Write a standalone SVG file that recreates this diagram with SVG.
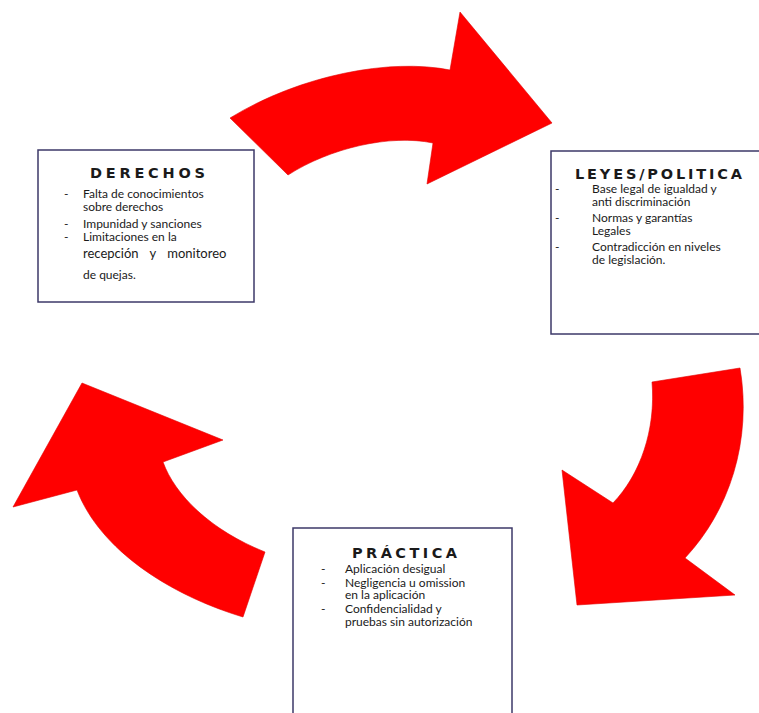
<svg xmlns="http://www.w3.org/2000/svg" width="759" height="713" viewBox="0 0 759 713">
<style>
.box{fill:#ffffff;stroke:#3d3868;stroke-width:1.5}
.arrow{fill:#ff0000;stroke:#e00000;stroke-width:0.6}
.title{font-family:"DejaVu Sans",Lato,sans-serif;font-weight:bold;font-size:14.5px;fill:#1a1a1a}
.t{font-family:Lato,"Liberation Sans",sans-serif;font-size:12px;fill:#1a1a1a}
</style>
<rect width="759" height="713" fill="#ffffff"/>
<g id="connectors">
<path class="arrow" d="M230,118 C300,75 390,58 450,70 L460,12 L552,123 L427,184 L433,143 C390,134 330,148 288,175 Z"/>
<path class="arrow" d="M740,368 C752,440 730,510 685,558 L735,595 L577,605 L562,470 L613,503 C640,475 656,430 652,382 Z"/>
<path class="arrow" d="M82,383 L223,440 L163,462 C175,495 210,530 265,552 L243,617 C170,595 100,550 77,490 L13,507 Z"/>
</g>
<g id="derechos">
<rect class="box" x="38" y="150" width="216" height="152"/>
<text class="title" x="90" y="178" textLength="115" lengthAdjust="spacing">DERECHOS</text>
<text class="t" x="64" y="198">-</text><text class="t" x="83" y="198">Falta de conocimientos</text>
<text class="t" x="83" y="211">sobre derechos</text>
<text class="t" x="64" y="228">-</text><text class="t" x="83" y="228">Impunidad y sanciones</text>
<text class="t" x="64" y="241">-</text><text class="t" x="83" y="241">Limitaciones en la</text>
<text class="t" x="83" y="258" style="font-size:13px" word-spacing="8">recepción y monitoreo</text>
<text class="t" x="83" y="279">de quejas.</text>
</g>
<g id="leyes">
<rect class="box" x="551" y="151" width="230" height="183"/>
<text class="title" x="575" y="179" textLength="167" lengthAdjust="spacing">LEYES/POLITICA</text>
<text class="t" x="555" y="193">-</text><text class="t" x="592" y="193">Base legal de igualdad y</text>
<text class="t" x="592" y="206">anti discriminación</text>
<text class="t" x="555" y="222">-</text><text class="t" x="592" y="222">Normas y garantías</text>
<text class="t" x="592" y="235">Legales</text>
<text class="t" x="555" y="251">-</text><text class="t" x="592" y="251">Contradicción en niveles</text>
<text class="t" x="592" y="264">de legislación.</text>
</g>
<g id="practica">
<rect class="box" x="293" y="528" width="219" height="200"/>
<text class="title" x="352" y="558" textLength="105" lengthAdjust="spacing">PRÁCTICA</text>
<text class="t" x="321" y="573">-</text><text class="t" x="345" y="573">Aplicación desigual</text>
<text class="t" x="321" y="587">-</text><text class="t" x="345" y="587">Negligencia u omission</text>
<text class="t" x="345" y="599">en la aplicación</text>
<text class="t" x="321" y="613">-</text><text class="t" x="345" y="613">Confidencialidad y</text>
<text class="t" x="345" y="626">pruebas sin autorización</text>
</g>
</svg>
